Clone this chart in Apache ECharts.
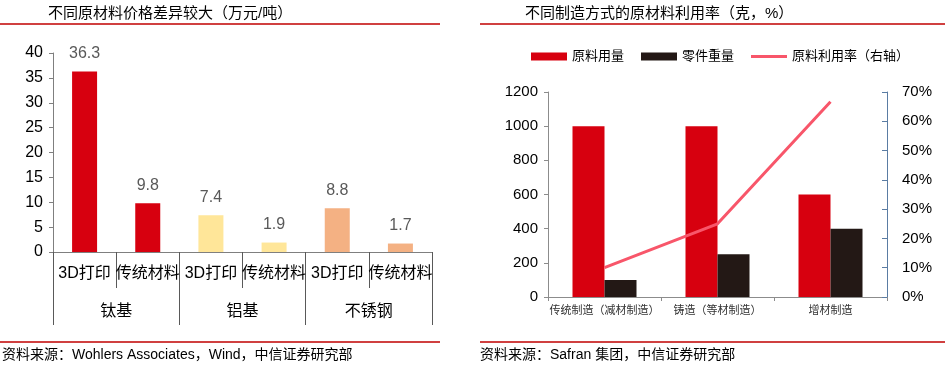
<!DOCTYPE html>
<html>
<head>
<meta charset="utf-8">
<script src="https://cdn.jsdelivr.net/npm/echarts@6/dist/echarts.min.js"></script>
<style>
html,body{margin:0;padding:0;background:#fff;}
#c{width:945px;height:368px;}
</style>
</head>
<body>
<div id="c"></div>
<script>
// Left chart data
var leftCategories = ['3D打印', '传统材料', '3D打印', '传统材料', '3D打印', '传统材料'];
var leftGroups = ['钛基', '铝基', '不锈钢'];
var leftValues = [36.3, 9.8, 7.4, 1.9, 8.8, 1.7];
var leftColors = ['#D7000F', '#D7000F', '#FFE699', '#FFE699', '#F4B183', '#F4B183'];
var leftTitle = '不同原材料价格差异较大（万元/吨）';
var leftSource = '资料来源：Wohlers Associates，Wind，中信证券研究部';

// Right chart data
var rightCategories = ['传统制造（减材制造）', '铸造（等材制造）', '增材制造'];
var rawMaterial = [1000, 1000, 600];
var partWeight = [100, 250, 400];
var utilization = [0.10, 0.25, 0.667];
var rightSeriesNames = ['原料用量', '零件重量', '原料利用率（右轴）'];
var rightTitle = '不同制造方式的原材料利用率（克，%）';
var rightSource = '资料来源：Safran 集团，中信证券研究部';

var FONT = '"Liberation Sans", Arial, "Noto Sans CJK SC", sans-serif';
var RED_LINE = '#C00000';
var LINE_ICON = 'path://M0,0L36,0L36,0.01Z M0,2.5L36,2.5L36,5.5L0,5.5Z M0,8L36,8L36,7.99Z';

var chart = echarts.init(document.getElementById('c'), null, {renderer: 'canvas'});

var option = {
  animation: false,
  textStyle: {fontFamily: FONT},
  grid: [
    {left: 53, top: 53, width: 379, height: 199},
    {left: 548, top: 92, width: 339, height: 205}
  ],
  legend: {
    left: 531, top: 50, padding: 0,
    itemWidth: 36, itemHeight: 8, itemGap: 17,
    textStyle: {fontSize: 13, color: '#000', fontFamily: FONT},
    data: [
      {name: rightSeriesNames[0], icon: 'rect'},
      {name: rightSeriesNames[1], icon: 'rect'},
      {name: rightSeriesNames[2], icon: LINE_ICON}
    ]
  },
  xAxis: [
    {
      gridIndex: 0, type: 'category', data: leftCategories, position: 'bottom',
      axisLine: {lineStyle: {color: '#7f7f7f', width: 1}},
      axisTick: {show: true, interval: 0, length: 36, lineStyle: {color: '#595959'}},
      axisLabel: {interval: 0, margin: 14, fontSize: 16, color: '#000', fontFamily: FONT}
    },
    {
      gridIndex: 0, type: 'category', data: leftGroups, position: 'bottom',
      axisLine: {show: false},
      axisTick: {show: true, interval: 0, length: 73, lineStyle: {color: '#595959'}},
      axisLabel: {interval: 0, margin: 52, fontSize: 16, color: '#000', fontFamily: FONT}
    },
    {
      gridIndex: 1, type: 'category', data: rightCategories, position: 'bottom',
      axisLine: {lineStyle: {color: '#8c8c8c'}},
      axisTick: {show: true, interval: 0, length: 4, lineStyle: {color: '#8c8c8c'}},
      axisLabel: {interval: 0, margin: 8, fontSize: 11, color: '#333', fontFamily: FONT}
    }
  ],
  yAxis: [
    {
      gridIndex: 0, type: 'value', min: 0, max: 40, interval: 5,
      splitLine: {show: false},
      axisLine: {show: true, lineStyle: {color: '#7f7f7f'}},
      axisTick: {show: true, length: 4, lineStyle: {color: '#7f7f7f'}},
      axisLabel: {margin: 10, fontSize: 16, color: '#000', fontFamily: FONT}
    },
    {
      gridIndex: 1, type: 'value', min: 0, max: 1200, interval: 200, position: 'left',
      splitLine: {show: false},
      axisLine: {show: true, lineStyle: {color: '#8c8c8c'}},
      axisTick: {show: true, length: 4, lineStyle: {color: '#8c8c8c'}},
      axisLabel: {margin: 10, fontSize: 15, color: '#000', fontFamily: FONT,
        formatter: function (v) { return String(v); }}
    },
    {
      gridIndex: 1, type: 'value', min: 0, max: 0.7, interval: 0.1, position: 'right',
      splitLine: {show: false},
      axisLine: {show: true, lineStyle: {color: '#5a7ca3'}},
      axisTick: {show: true, inside: true, length: 5, lineStyle: {color: '#5a7ca3'}},
      axisLabel: {margin: 15, fontSize: 15, color: '#000', fontFamily: FONT,
        formatter: function (v) { return Math.round(v * 100) + '%'; }}
    }
  ],
  series: [
    {
      name: 'price', type: 'bar', xAxisIndex: 0, yAxisIndex: 0, barWidth: 25,
      data: leftValues.map(function (v, i) { return {value: v, itemStyle: {color: leftColors[i]}}; }),
      label: {show: true, position: 'top', distance: 10, fontSize: 16, color: '#595959', fontFamily: FONT}
    },
    {
      name: rightSeriesNames[0], type: 'bar', xAxisIndex: 2, yAxisIndex: 1,
      barWidth: 32, barGap: '0%', itemStyle: {color: '#D7000F'}, data: rawMaterial
    },
    {
      name: rightSeriesNames[1], type: 'bar', xAxisIndex: 2, yAxisIndex: 1,
      barWidth: 32, barGap: '0%', itemStyle: {color: '#231815'}, data: partWeight
    },
    {
      name: rightSeriesNames[2], type: 'line', xAxisIndex: 2, yAxisIndex: 2,
      showSymbol: false, symbol: 'none', lineStyle: {color: '#F8566A', width: 3},
      itemStyle: {color: '#F8566A'}, data: utilization
    }
  ],
  graphic: [
    {type: 'text', left: 48, top: 6, style: {text: leftTitle, font: '15px ' + FONT, fill: '#000'}},
    {type: 'text', left: 525, top: 6, style: {text: rightTitle, font: '15px ' + FONT, fill: '#000'}},
    {type: 'line', shape: {x1: 0, y1: 24, x2: 440, y2: 24}, style: {stroke: RED_LINE, lineWidth: 1.5}},
    {type: 'line', shape: {x1: 480, y1: 24, x2: 945, y2: 24}, style: {stroke: RED_LINE, lineWidth: 1.5}},
    {type: 'line', shape: {x1: 0, y1: 342, x2: 440, y2: 342}, style: {stroke: RED_LINE, lineWidth: 1.5}},
    {type: 'line', shape: {x1: 480, y1: 342, x2: 945, y2: 342}, style: {stroke: RED_LINE, lineWidth: 1.5}},
    {type: 'text', left: 2, top: 348, style: {text: leftSource, font: '14px ' + FONT, fill: '#000'}},
    {type: 'text', left: 480, top: 348, style: {text: rightSource, font: '14px ' + FONT, fill: '#000'}}
  ]
};
chart.setOption(option);
</script>
</body>
</html>
